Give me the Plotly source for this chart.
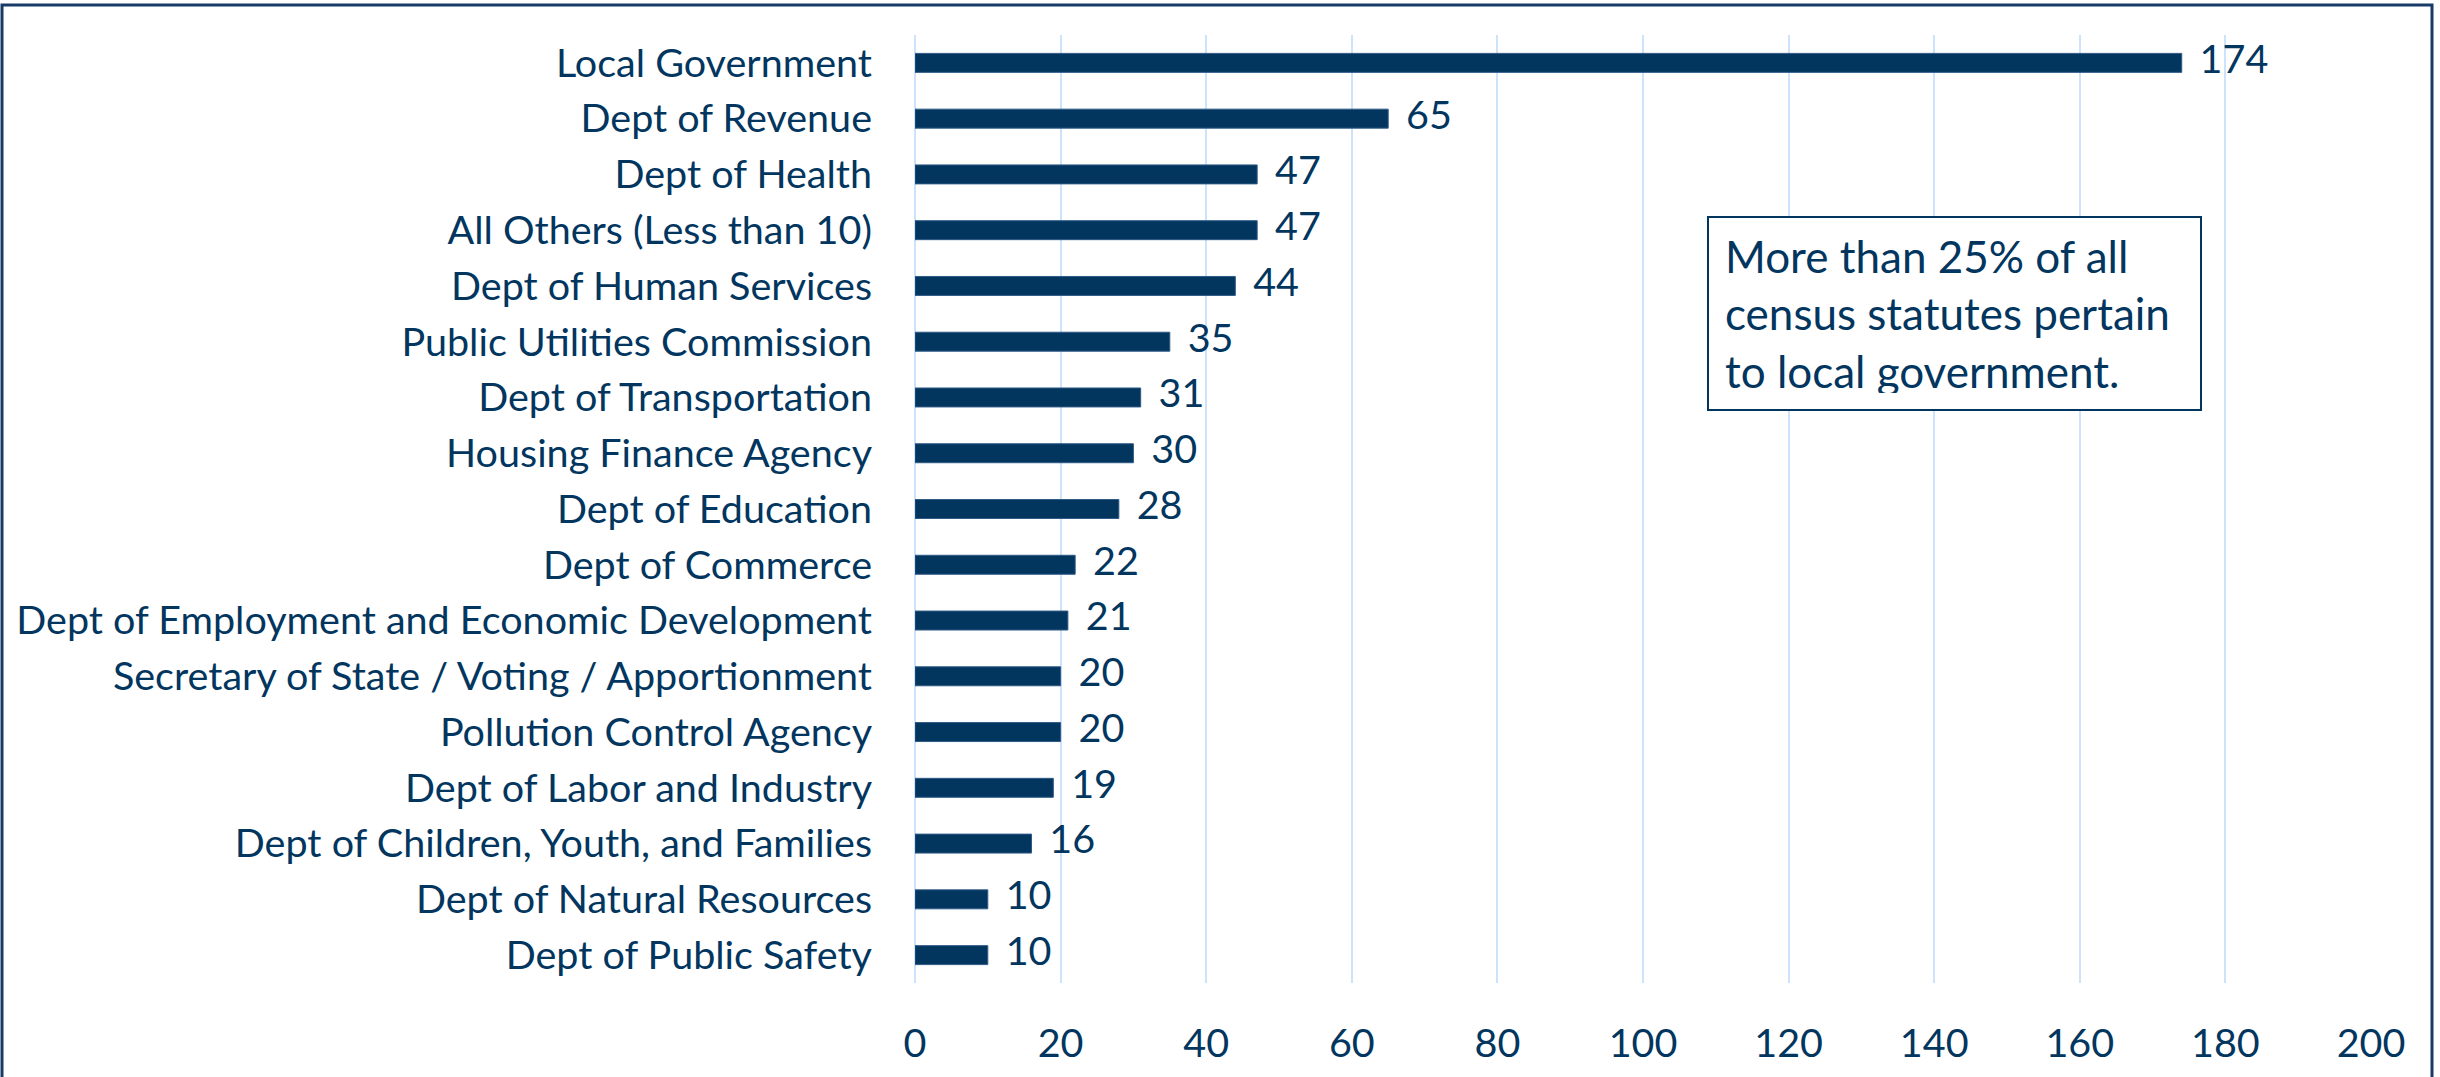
import plotly.graph_objects as go

categories = [
    "Local Government",
    "Dept of Revenue",
    "Dept of Health",
    "All Others (Less than 10)",
    "Dept of Human Services",
    "Public Utilities Commission",
    "Dept of Transportation",
    "Housing Finance Agency",
    "Dept of Education",
    "Dept of Commerce",
    "Dept of Employment and Economic Development",
    "Secretary of State / Voting / Apportionment",
    "Pollution Control Agency",
    "Dept of Labor and Industry",
    "Dept of Children, Youth, and Families",
    "Dept of Natural Resources",
    "Dept of Public Safety",
]
values = [174, 65, 47, 47, 44, 35, 31, 30, 28, 22, 21, 20, 20, 19, 16, 10, 10]
x_ticks = [0, 20, 40, 60, 80, 100, 120, 140, 160, 180, 200]
note_text = "More than 25% of all<br>census statutes pertain<br>to local government."

NAVY = "#02365F"
GRID = "#CCE4FB"
FONT = "Lato, Carlito, 'Liberation Sans Narrow', sans-serif"
FS = 39.5
FS_NOTE = 44

W, H = 2440, 1077
L, R, T, B = 915, 69, 35, 94
pw, ph = W - L - R, H - T - B

fig = go.Figure()
fig.add_trace(go.Bar(
    y=categories, x=values, orientation="h",
    marker=dict(color=NAVY, line=dict(color="#2E5A86", width=1)),
    hoverinfo="x+y",
))
fig.add_trace(go.Scatter(
    y=categories, x=values, mode="markers+text",
    text=[str(v) for v in values], textposition="middle right",
    marker=dict(size=27, opacity=0),
    textfont=dict(family=FONT, size=FS, color=NAVY),
    hoverinfo="skip", showlegend=False, cliponaxis=False,
))

def px2paper_x(px):
    return (px - L) / pw

def px2paper_y(py):
    return (H - B - py) / ph

fig.add_annotation(
    xref="paper", yref="paper",
    x=px2paper_x(1707), y=px2paper_y(216),
    xanchor="left", yanchor="top",
    text=note_text, showarrow=False, align="left",
    font=dict(family=FONT, size=FS_NOTE, color=NAVY),
    bordercolor=NAVY, borderwidth=2, borderpad=16,
    width=495 - 2 * 16 - 4, height=195 - 2 * 16 - 4,
    bgcolor="white",
)

fig.add_shape(
    type="rect", xref="paper", yref="paper",
    x0=px2paper_x(2), x1=px2paper_x(2432),
    y0=px2paper_y(1090), y1=px2paper_y(5),
    line=dict(color="#173B66", width=3), layer="above",
)

fig.update_layout(
    template=None,
    width=W, height=H,
    margin=dict(l=L, r=R, t=T, b=B, pad=0, autoexpand=False),
    paper_bgcolor="white", plot_bgcolor="white",
    showlegend=False,
    bargap=0.66,
    font=dict(family=FONT, size=FS, color=NAVY),
    xaxis=dict(
        range=[0, 200], tickvals=x_ticks, ticktext=[str(t) for t in x_ticks],
        showgrid=True, gridcolor=GRID, gridwidth=2,
        zeroline=True, zerolinecolor=GRID, zerolinewidth=2,
        showline=False, ticks="", ticklabelstandoff=33,
        tickfont=dict(family=FONT, size=FS, color=NAVY),
        fixedrange=True, automargin=False,
    ),
    yaxis=dict(
        range=[16.5, -0.5], showgrid=False, zeroline=False, showline=False,
        ticks="", ticklabelstandoff=42,
        tickfont=dict(family=FONT, size=FS, color=NAVY),
        fixedrange=True, automargin=False,
    ),
)

fig.write_html(
    "out.html",
    config={"displayModeBar": False},
    post_script="document.body.style.margin='0';document.body.style.overflow='hidden';",
)
